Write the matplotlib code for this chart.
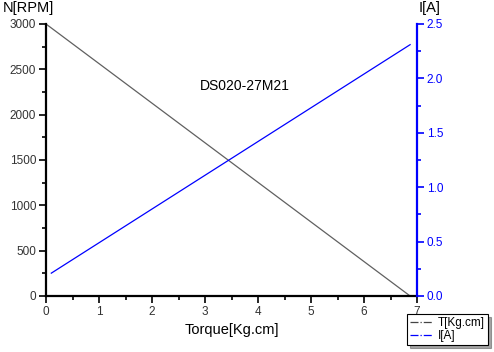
import matplotlib
matplotlib.use("Agg")
import matplotlib.pyplot as plt
from matplotlib.lines import Line2D
from matplotlib.ticker import MultipleLocator

plt.rcParams['font.family'] = ['Liberation Sans', 'DejaVu Sans']

torque_T = [0.0, 6.87]
speed_N = [3000, 0]
torque_I = [0.1, 6.87]
current_I = [0.21, 2.31]

fig = plt.figure(figsize=(4.94, 3.52), dpi=100)
ax = fig.add_axes([46/494, 1-296/352, (417-46)/494, (296-24)/352])
ax2 = ax.twinx()

ax.plot(torque_T, speed_N, color='#606060', lw=0.9)
ax2.plot(torque_I, current_I, color='#0000ff', lw=0.9)

ax.set_xlim(0, 7)
ax.set_ylim(0, 3000)
ax2.set_ylim(0, 2.5)
ax.xaxis.set_major_locator(MultipleLocator(1))
ax.xaxis.set_minor_locator(MultipleLocator(0.5))
ax.yaxis.set_major_locator(MultipleLocator(500))
ax.yaxis.set_minor_locator(MultipleLocator(250))
ax2.yaxis.set_major_locator(MultipleLocator(0.5))
ax2.yaxis.set_minor_locator(MultipleLocator(0.25))
ax2.yaxis.set_major_formatter(matplotlib.ticker.FormatStrFormatter('%.1f'))

for a in (ax, ax2):
    a.spines['top'].set_visible(False)
ax.spines['right'].set_visible(False)
ax.spines['left'].set_linewidth(1.6)
ax.spines['bottom'].set_linewidth(1.6)
ax2.spines['left'].set_visible(False)
ax2.spines['bottom'].set_visible(False)
ax2.spines['right'].set_color('#0000ff')
ax2.spines['right'].set_linewidth(1.6)

ax.tick_params(axis='both', which='major', direction='out', length=5, width=1.2, labelsize=8.5, pad=2, colors='black')
ax.tick_params(axis='both', which='minor', direction='out', length=3, width=1.2)
ax.tick_params(axis='x', labelcolor='#333333')
ax.tick_params(axis='y', labelcolor='#333333')
ax2.tick_params(axis='y', which='major', direction='out', length=5, width=1.2, labelsize=8.5, pad=2, colors='#0000ff')
ax2.tick_params(axis='y', which='minor', direction='out', length=3, width=1.2, colors='#0000ff')

fig.text(3/494, 1-8/352, 'N[RPM]', fontsize=10.5, va='center', ha='left')
fig.text(430/494, 1-8/352, 'I[A]', fontsize=10.5, va='center', ha='center')
fig.text(232/494, 1-330/352, 'Torque[Kg.cm]', fontsize=10.5, va='center', ha='center')
ax.text(3.75, 2320, 'DS020-27M21', fontsize=10, ha='center', va='center')

handles = [Line2D([0], [0], color='#444444', ls='-.', lw=0.9),
           Line2D([0], [0], color='#0000ff', ls='-.', lw=0.9)]
leg = fig.legend(handles, ['T[Kg.cm]', 'I[A]'], loc='lower right',
                 bbox_to_anchor=(488/494, 1-345/352), prop={'size': 8.5},
                 frameon=True, fancybox=False, shadow=True, edgecolor='black',
                 handlelength=2.0, borderpad=0.25, labelspacing=0.1, handletextpad=0.4,
                 borderaxespad=0)
leg.get_frame().set_linewidth(0.8)

fig.savefig('out.png', dpi=100)
